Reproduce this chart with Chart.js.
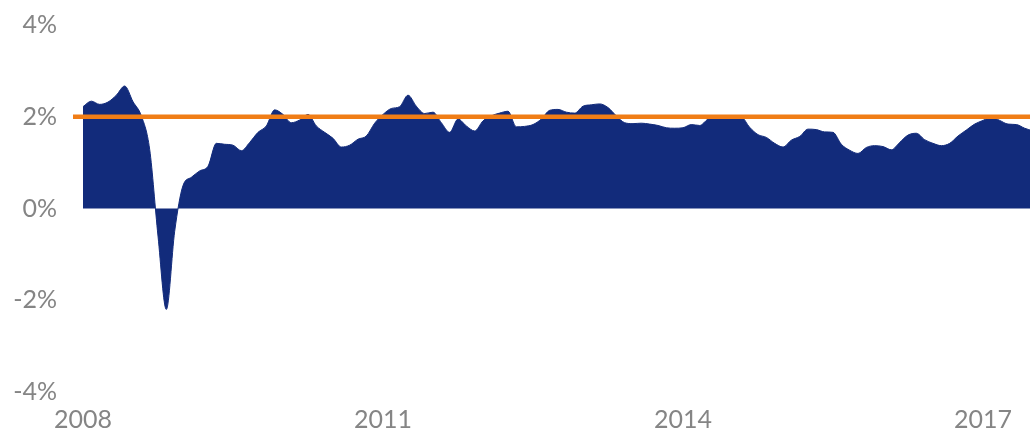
<!DOCTYPE html>
<html><head><meta charset="utf-8">
<script src="https://cdn.jsdelivr.net/npm/chart.js@4.4.0/dist/chart.umd.min.js"></script>
<style>html,body{margin:0;padding:0;background:#fff}#wrap{width:1030px;height:430px;position:relative}</style>
</head><body><div id="wrap"><canvas id="c" width="1030" height="430"></canvas></div>
<script>
// Monthly series starting January 2008
const startYear = 2008;
const tickYears = [2008, 2011, 2014, 2017];
const inflation = [
  2.22, 2.34, 2.27, 2.32, 2.47, 2.67, 2.33, 2.02, 1.29, -0.60, -2.20, -0.50,
  0.50, 0.68, 0.82, 0.92, 1.42, 1.40, 1.38, 1.26, 1.44, 1.66, 1.80, 2.15,
  2.05, 1.87, 1.93, 2.05, 1.80, 1.66, 1.53, 1.34, 1.38, 1.51, 1.58, 1.86,
  2.05, 2.18, 2.22, 2.47, 2.23, 2.07, 2.10, 1.87, 1.66, 1.95, 1.80, 1.69,
  1.91, 2.02, 2.08, 2.12, 1.78, 1.79, 1.83, 1.95, 2.14, 2.16, 2.10, 2.08,
  2.23, 2.26, 2.28, 2.20, 2.02, 1.87, 1.85, 1.86, 1.84, 1.81, 1.76, 1.75,
  1.76, 1.83, 1.81, 1.95, 2.02, 2.02, 2.02, 2.00, 1.77, 1.61, 1.55, 1.42,
  1.34, 1.49, 1.57, 1.73, 1.72, 1.67, 1.66, 1.40, 1.27, 1.20, 1.33, 1.37,
  1.35, 1.28, 1.44, 1.60, 1.64, 1.50, 1.42, 1.37, 1.42, 1.58, 1.71, 1.84,
  1.92, 1.99, 1.92, 1.84, 1.83, 1.75, 1.69
];
const targetRate = 2;
const yMin = -4, yMax = 4, yStep = 2;
const xMin = -1.2, xMax = 113.64;

const navy = '#122B7B';
const orange = '#F07D16';
const grey = '#858585';
const font = { family: 'Lato, "Open Sans", sans-serif', size: 25 };

new Chart(document.getElementById('c'), {
  type: 'line',
  data: {
    datasets: [
      { label: 'Target', data: [{x: xMin, y: targetRate}, {x: xMax, y: targetRate}],
        borderColor: orange, borderWidth: 4.5, pointRadius: 0, fill: false, clip: false },
      { label: 'Inflation', data: inflation.map((v, i) => ({x: i, y: v})),
        borderColor: navy, borderWidth: 1, backgroundColor: navy, pointRadius: 0,
        fill: 'origin', cubicInterpolationMode: 'monotone' }
    ]
  },
  options: {
    responsive: false, animation: false, events: [],
    layout: { padding: { top: 25, left: 0, right: 0, bottom: 0 } },
    plugins: { legend: { display: false }, tooltip: { enabled: false } },
    scales: {
      x: { type: 'linear', min: xMin, max: xMax, border: { display: false },
        grid: { display: false, drawTicks: false },
        afterBuildTicks: s => { s.ticks = tickYears.map(y => ({ value: (y - startYear) * 12 })); },
        afterFit: s => { s.height = 38; s.paddingLeft = 0; s.paddingRight = 0; },
        ticks: { autoSkip: false, maxRotation: 0, padding: 13, color: grey, font: font,
          callback: v => String(startYear + Math.round(v / 12)) } },
      y: { min: yMin, max: yMax, border: { display: false },
        grid: { display: false, drawTicks: false },
        afterFit: s => { s.width = 73; s.paddingTop = 0; s.paddingBottom = 0; },
        ticks: { stepSize: yStep, padding: 16, color: grey, font: font, callback: v => v + '%' } }
    }
  }
});
</script>
</body></html>
